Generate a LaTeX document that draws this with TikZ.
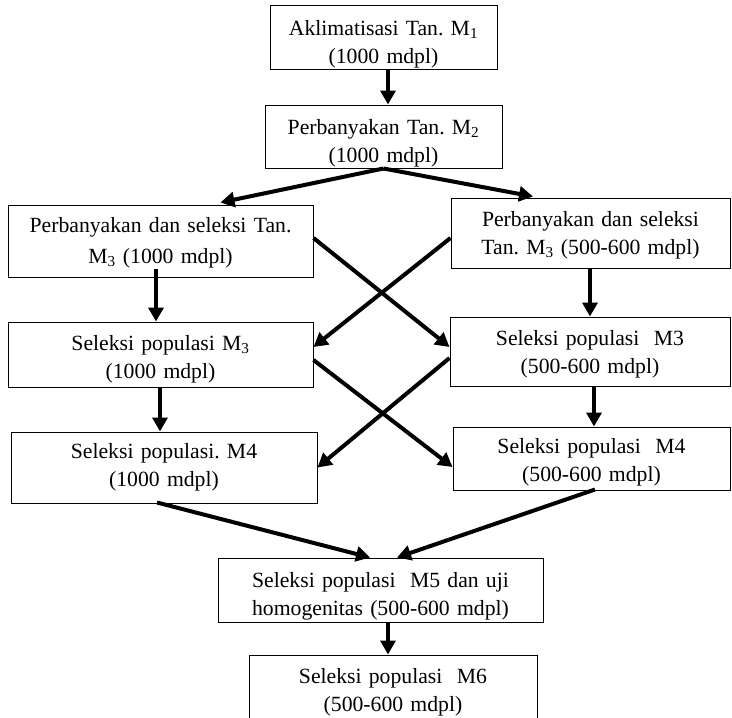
\documentclass[tikz,border=0pt]{standalone}
\usepackage{fontspec}
\setmainfont{Liberation Serif}
\usetikzlibrary{arrows.meta,calc}
\frenchspacing
\tikzset{
  boxnode/.style={draw, line width=1pt, inner sep=0pt},
  txtnode/.style={inner sep=0pt, align=center, font=\fontsize{21.7}{28}\selectfont, anchor=base},
  conn/.style={line width=4pt, -{Triangle[length=14pt,width=15pt]}},
}
\begin{document}
\begin{tikzpicture}[x=1pt,y=-1pt]
\useasboundingbox (0,0) rectangle (732,718);
% boxes
\node[boxnode, minimum width=227pt, minimum height=64pt] (b1) at (383.5,37) {};
\node[boxnode, minimum width=237pt, minimum height=63pt] (b2) at (383.5,136.5) {};
\node[boxnode, minimum width=305pt, minimum height=72pt] (b3) at (160.5,241) {};
\node[boxnode, minimum width=279pt, minimum height=70pt] (b4) at (590.5,233) {};
\node[boxnode, minimum width=305pt, minimum height=65pt] (b5) at (160.5,354.5) {};
\node[boxnode, minimum width=280pt, minimum height=69pt] (b6) at (590,351.5) {};
\node[boxnode, minimum width=306pt, minimum height=71pt] (b7) at (164,467.5) {};
\node[boxnode, minimum width=277pt, minimum height=63pt] (b8) at (591.5,458.5) {};
\node[boxnode, minimum width=325pt, minimum height=64pt] (b9) at (380.5,590) {};
\node[boxnode, minimum width=288pt, minimum height=67pt] (b10) at (393,688.5) {};
% texts
\node[txtnode, text width=225pt] (t1) at (383.5,35) {Aklimatisasi Tan. M\textsubscript{1}\\(1000 mdpl)};
\node[txtnode, text width=235pt] (t2) at (383.5,134) {Perbanyakan Tan. M\textsubscript{2}\\(1000 mdpl)};
\node[txtnode, text width=303pt, font=\fontsize{21.7}{31}\selectfont] (t3) at (160.5,232) {Perbanyakan dan seleksi Tan.\\M\textsubscript{3} (1000 mdpl)};
\node[txtnode, text width=277pt] (t4) at (590.5,226) {Perbanyakan dan seleksi\\Tan. M\textsubscript{3} (500-600 mdpl)};
\node[txtnode, text width=303pt] (t5) at (160.5,350) {Seleksi populasi M\textsubscript{3}\\(1000 mdpl)};
\node[txtnode, text width=278pt] (t6) at (590,345) {Seleksi populasi~ M3\\(500-600 mdpl)};
\node[txtnode, text width=304pt] (t7) at (164,458) {Seleksi populasi. M4\\(1000 mdpl)};
\node[txtnode, text width=275pt] (t8) at (591.5,453) {Seleksi populasi~ M4\\(500-600 mdpl)};
\node[txtnode, text width=323pt] (t9) at (380.5,587) {Seleksi populasi~ M5 dan uji\\homogenitas (500-600 mdpl)};
\node[txtnode, text width=286pt] (t10) at (393,683) {Seleksi populasi~ M6\\(500-600 mdpl)};
% connectors
\draw[conn] ($(b1.south)+(4.5,0)$) -- ($(b2.north)+(4.5,0)$);
\draw[conn] ($(b2.south)+(0,0)$) -- ($(b3.north)+(60,-2)$);
\draw[conn] ($(b2.south)+(0,0)$) -- ($(b4.north)+(-57.5,-1)$);
\draw[conn] ($(b3.south)+(-4.5,-9)$) -- ($(b5.north)+(-4.5,0)$);
\draw[conn] ($(b4.south)+(-0.5,0)$) -- ($(b6.north)+(0,0)$);
\draw[conn] ($(b5.south)+(-0.5,0)$) -- ($(b7.north)+(-4,0)$);
\draw[conn] ($(b6.south)+(4,0)$) -- ($(b8.north)+(2.5,0)$);
\draw[conn] ($(b3.east)+(0,-3)$) -- ($(b6.west)+(0,-4.5)$);
\draw[conn] ($(b4.west)+(0,5)$) -- ($(b5.east)+(0,-7.5)$);
\draw[conn] ($(b5.east)+(0,5.5)$) -- ($(b8.west)+(0,8.5)$);
\draw[conn] ($(b6.west)+(0,6.5)$) -- ($(b7.east)+(0,0)$);
\draw[conn] ($(b7.south)+(-7,-1)$) -- ($(b9.north)+(-10.5,0)$);
\draw[conn] ($(b8.south)+(3.5,-1)$) -- ($(b9.north)+(16.5,0)$);
\draw[conn] ($(b9.south)+(7.5,0)$) -- ($(b10.north)+(-5,0)$);
\end{tikzpicture}
\end{document}
